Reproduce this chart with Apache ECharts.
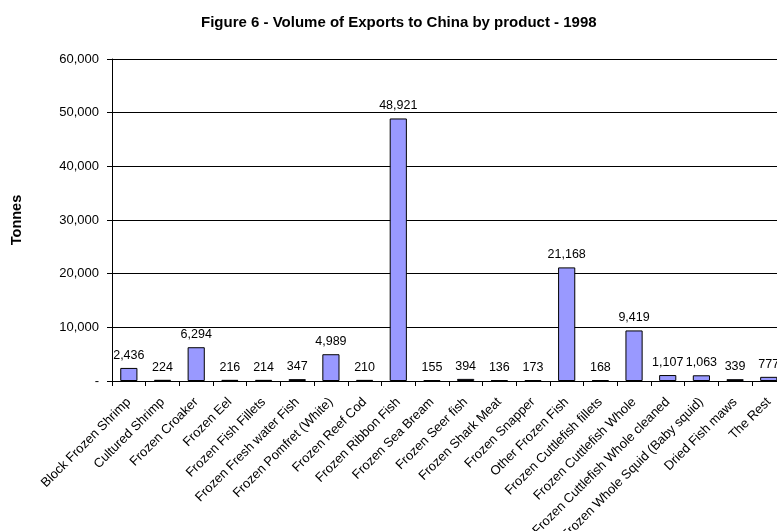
<!DOCTYPE html>
<html>
<head>
<meta charset="utf-8">
<script src="https://cdn.jsdelivr.net/npm/echarts@6/dist/echarts.min.js"></script>
<style>
  html, body { margin: 0; padding: 0; background: #fff; }
  #chart { width: 777px; height: 531px; }
</style>
</head>
<body>
<div id="chart"></div>
<script>
// Export products shipped to China in 1998
const products = [
  'Block Frozen Shrimp', 'Cultured Shrimp', 'Frozen Croaker', 'Frozen Eel',
  'Frozen Fish Fillets', 'Frozen Fresh water Fish', 'Frozen Pomfret (White)',
  'Frozen Reef Cod', 'Frozen Ribbon Fish', 'Frozen Sea Bream', 'Frozen Seer fish',
  'Frozen Shark Meat', 'Frozen Snapper', 'Other Frozen Fish',
  'Frozen Cuttlefish fillets', 'Frozen Cuttlefish Whole',
  'Frozen Cuttlefish Whole cleaned', 'Frozen Whole Squid (Baby squid)',
  'Dried Fish maws', 'The Rest'
];
// Tonnes per product
const tonnes = [
  2436, 224, 6294, 216, 214, 347, 4989, 210, 48921, 155, 394,
  136, 173, 21168, 168, 9419, 1107, 1063, 339, 777
];
// Value axis
const axisMin = 0;
const axisMax = 60000;
const axisStep = 10000;

const fmt = v => v === 0 ? '-' : Number(v).toLocaleString('en-US');
const FONT = '"Liberation Sans", Arial, sans-serif';

const chart = echarts.init(document.getElementById('chart'), null, { renderer: 'canvas' });
chart.setOption({
  backgroundColor: '#ffffff',
  animation: false,
  title: {
    text: 'Figure 6 - Volume of Exports to China by product - 1998',
    left: 201,
    top: 15,
    padding: 0,
    textStyle: { fontFamily: FONT, fontSize: 15, fontWeight: 'bold', color: '#000' }
  },
  grid: {
    left: 112, right: -8.6, top: 59, bottom: 150,
    containLabel: false,
    outerBoundsMode: 'none'
  },
  xAxis: {
    type: 'category',
    data: products,
    axisLine: { lineStyle: { color: '#000', width: 1 } },
    axisTick: { show: true, alignWithLabel: false, length: 5, lineStyle: { color: '#000' } },
    axisLabel: {
      interval: 0,
      rotate: 45,
      margin: 19,
      fontFamily: FONT,
      fontSize: 13,
      color: '#000'
    }
  },
  yAxis: {
    type: 'value',
    min: axisMin,
    max: axisMax,
    interval: axisStep,
    name: 'Tonnes',
    nameLocation: 'middle',
    nameGap: 88,
    nameRotate: 90,
    nameTextStyle: { fontFamily: FONT, fontSize: 14.5, fontWeight: 'bold', color: '#000' },
    axisLine: { show: true, lineStyle: { color: '#000', width: 1 } },
    axisTick: { show: true, length: 5, lineStyle: { color: '#000' } },
    splitLine: { show: true, lineStyle: { color: '#000', width: 1 } },
    axisLabel: {
      formatter: fmt,
      margin: 13,
      fontFamily: FONT,
      fontSize: 13,
      color: '#000'
    }
  },
  series: [{
    type: 'bar',
    data: tonnes,
    barWidth: '51%',
    itemStyle: { color: '#9999FF', borderColor: '#000', borderWidth: 1 },
    label: {
      show: true,
      position: 'top',
      distance: 6,
      formatter: p => fmt(p.value),
      fontFamily: FONT,
      fontSize: 12.5,
      color: '#000'
    }
  }]
});
</script>
</body>
</html>
